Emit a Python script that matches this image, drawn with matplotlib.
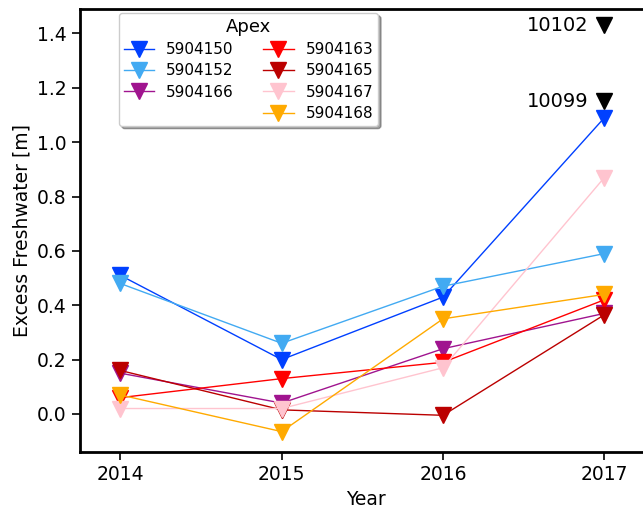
import matplotlib
matplotlib.use("Agg")
import matplotlib.pyplot as plt
from matplotlib.lines import Line2D

years = [2014, 2015, 2016, 2017]

floats = ["5904150", "5904152", "5904166", "5904163", "5904165", "5904167", "5904168"]
v_5904150 = [0.51, 0.20, 0.43, 1.09]
v_5904152 = [0.48, 0.26, 0.47, 0.59]
v_5904166 = [0.15, 0.04, 0.24, 0.37]
v_5904163 = [0.06, 0.13, 0.19, 0.42]
v_5904165 = [0.16, 0.015, -0.005, 0.365]
v_5904167 = [0.02, 0.02, 0.17, 0.87]
v_5904168 = [0.07, -0.065, 0.35, 0.44]
values = [v_5904150, v_5904152, v_5904166, v_5904163, v_5904165, v_5904167, v_5904168]
colors = ["#0040ff", "#42aaf2", "#a0148f", "#ff0000", "#bb0000", "#ffc4cf", "#ffaa00"]

extra_ids = ["10102", "10099"]
extra_year = [2017, 2017]
extra_vals = [1.43, 1.15]

plt.rcParams["font.family"] = ["DejaVu Sans"]

fig = plt.figure(figsize=(6.43, 5.12), dpi=100)
ax = fig.add_axes([0.1244, 0.1172, 0.8908, 0.8652])

handles = []
for name, vals, c in zip(floats, values, colors):
    h, = ax.plot(years, vals, color=c, lw=1.0, marker="v", markersize=12,
                 markerfacecolor=c, markeredgecolor=c, label=name)
    handles.append(h)

for name, yr, v in zip(extra_ids, extra_year, extra_vals):
    ax.plot([yr], [v], marker="v", markersize=12, color="black", ls="none")
    ax.text(yr - 0.1, v, name, ha="right", va="center", fontsize=14)

ax.set_xlim(2013.75, 2017.3)
ax.set_ylim(-0.14, 1.49)
ax.set_xticks(years)
ax.set_xticklabels([str(y) for y in years])
ax.set_yticks([0.0, 0.2, 0.4, 0.6, 0.8, 1.0, 1.2, 1.4])
ax.tick_params(labelsize=13.5, length=6, width=1.2)
for s in ax.spines.values():
    s.set_linewidth(2)
ax.spines["right"].set_visible(False)
ax.set_xlabel("Year", fontsize=13.5)
ax.set_ylabel("Excess Freshwater [m]", fontsize=13.5)

blank = Line2D([], [], linestyle="none", marker=None)
leg_handles = handles[:3] + [blank] + handles[3:]
leg_labels = floats[:3] + [""] + floats[3:]
leg = ax.legend(leg_handles, leg_labels, ncol=2, title="Apex", fontsize=11,
                title_fontsize=13, loc="upper left", bbox_to_anchor=(0.068, 0.991),
                borderaxespad=0, frameon=True, fancybox=True, shadow=True,
                handlelength=2.0, handletextpad=0.8, columnspacing=1.9,
                labelspacing=0.42, borderpad=0.3)
leg.get_frame().set_edgecolor("#cccccc")

fig.savefig("out.png", dpi=100)
